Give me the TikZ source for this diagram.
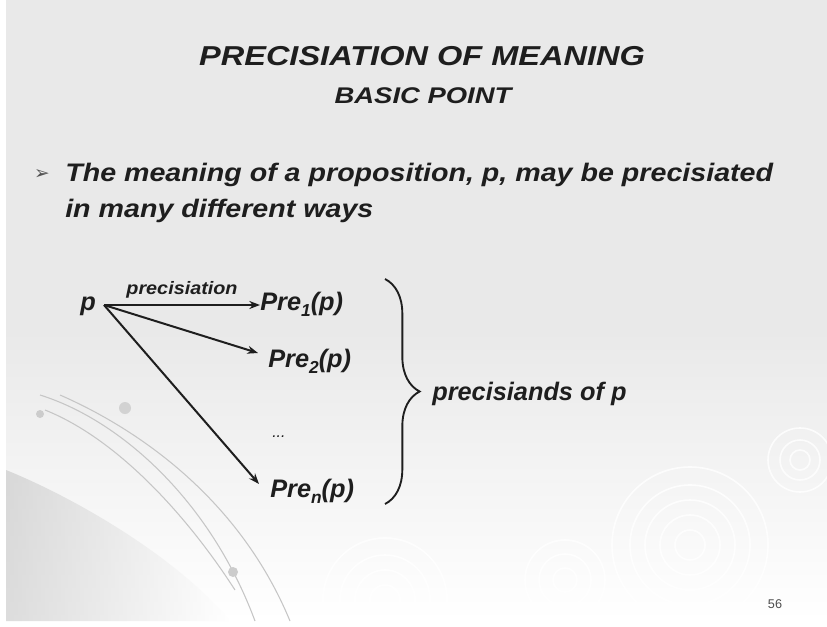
\documentclass[tikz,border=0pt]{standalone}
\usepackage{fontspec}
\usepackage{graphicx}
\setmainfont{Liberation Sans}
\newfontfamily\dejavu{DejaVu Sans}
\usetikzlibrary{decorations.pathreplacing,arrows.meta}
\definecolor{ink}{RGB}{30,30,30}
\definecolor{slidebg}{RGB}{233,233,233}
\newcommand{\wide}[2]{\scalebox{#1}[1]{#2}}
\newcommand{\lowsub}[1]{\raisebox{-4.5pt}{\fontsize{13}{13}\selectfont #1}}
\tikzset{
  txt/.style={font=\bfseries\itshape, text=ink, inner sep=0pt},
  arr/.style={draw=ink, line width=1.5pt, -{Stealth[length=8pt,width=6pt]}},
  deco/.style={draw=gray!45, line width=0.8pt},
  ring/.style={draw=white, line width=1.2pt, opacity=0.8},
}
\begin{document}
\begin{tikzpicture}[x=0.75pt,y=-0.75pt]
\useasboundingbox (0,0) rectangle (827,627);
\fill[white] (0,0) rectangle (827,627);
\fill[slidebg] (6,0) rectangle (827,330);
\shade[top color=slidebg, bottom color=white] (6,330) rectangle (827,621);
% darker lower-left corner
\shade[left color=gray!45, right color=white, opacity=0.6] (6,470) .. controls (80,500) and (180,560) .. (230,621) -- (6,621) -- cycle;
% decorative arcs
\draw[deco] (40,395) .. controls (120,420) and (210,500) .. (255,621);
\draw[deco] (45,410) .. controls (120,440) and (190,520) .. (235,590);
\draw[deco] (60,395) .. controls (140,430) and (240,500) .. (290,621);
\fill[gray!40] (40,414) circle (4);
\fill[gray!35] (125,408) circle (6);
\fill[gray!40] (233,572) circle (5);
% rings
\foreach \r in {15,30,45,60,78} {\draw[ring] (690,545) circle (\r);}
\foreach \r in {10,20,32} {\draw[ring] (800,460) circle (\r);}
\foreach \r in {15,30,45,62} {\draw[ring] (385,600) circle (\r);}
\foreach \r in {12,26,40} {\draw[ring] (565,580) circle (\r);}
% titles
\node[txt, font=\fontsize{20.5}{24}\selectfont\bfseries\itshape] (title) at (422,56) {\wide{1.19}{PRECISIATION OF MEANING}};
\node[txt, font=\fontsize{17}{20}\selectfont\bfseries\itshape] (sub) at (423,96) {\wide{1.21}{BASIC POINT}};
% bullet
\node[inner sep=0pt, text=gray!65!black, font=\dejavu\fontsize{14}{14}\selectfont] (bul) at (42,175) {➢};
\node[txt, anchor=base west, font=\fontsize{19}{22}\selectfont\bfseries\itshape] (l1) at (65,182) {\wide{1.13}{The meaning of a proposition, p, may be precisiated}};
\node[txt, anchor=base west, font=\fontsize{19}{22}\selectfont\bfseries\itshape] (l2) at (65,218) {\wide{1.13}{in many different ways}};
% diagram
\tikzset{pre/.style={txt, anchor=base west, font=\fontsize{19}{22}\selectfont\bfseries\itshape}}
\node[pre] (p) at (80,310) {p};
\node[pre] (pre1) at (260,310) {Pre\lowsub{1}(p)};
\node[pre] (pre2) at (268,367) {Pre\lowsub{2}(p)};
\node[pre] (dots) at (272,437) {\textmd{\fontsize{12}{12}\selectfont ...}};
\node[pre] (pren) at (270,497) {Pre\lowsub{n}(p)};
\coordinate (o) at (104,305);
\draw[arr] (o) -- (pre1.west |- o) node[midway, above=4pt, txt, font=\fontsize{13.5}{15}\selectfont\bfseries\itshape] (lab) {\wide{1.1}{precisiation}};
\draw[arr] (o) -- (258,353);
\draw[arr] (o) -- (259,484);
\draw[draw=ink, line width=1.4pt, decorate, decoration={brace, amplitude=26pt, aspect=0.5}] (385,279) -- (385,504) coordinate[midway] (bm);
\node[pre] (pd) at (432,400) {precisiands of p};
\node[inner sep=0pt, text=gray!60!black, font=\fontsize{9.5}{10}\selectfont] (num) at (775,604) {56};
\end{tikzpicture}
\end{document}
